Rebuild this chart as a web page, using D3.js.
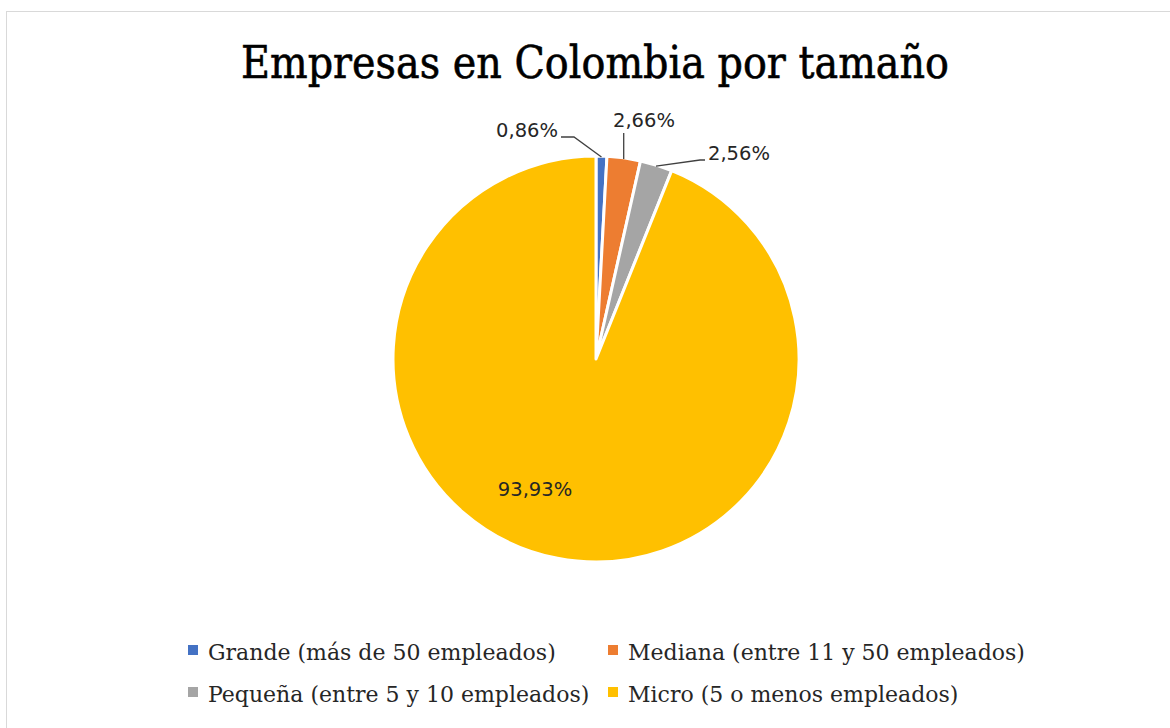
<!DOCTYPE html>
<html>
<head>
<meta charset="utf-8">
<script src="https://cdn.jsdelivr.net/npm/d3@7"></script>
<style>
  html, body { margin: 0; padding: 0; background: #fff; }
  svg { display: block; }
</style>
</head>
<body>
<svg id="chart" width="1170" height="728"></svg>
<script>
// Company size shares in Colombia (percent)
const categories = [
  "Grande (más de 50 empleados)",
  "Mediana (entre 11 y 50 empleados)",
  "Pequeña (entre 5 y 10 empleados)",
  "Micro (5 o menos empleados)"
];
const shares = [0.86, 2.66, 2.56, 93.93];
const shareLabels = ["0,86%", "2,66%", "2,56%", "93,93%"];
const colors = ["#4472C4", "#ED7D31", "#A5A5A5", "#FFC000"];
const title = "Empresas en Colombia por tamaño";

const W = 1170, H = 728;
const cx = 596, cy = 359, R = 203;
const serif = "'DejaVu Serif', serif";
const sans = "'DejaVu Sans', sans-serif";

const svg = d3.select("#chart");

// chart frame
svg.append("rect")
  .attr("x", 6.5).attr("y", 11.5)
  .attr("width", W).attr("height", H)
  .attr("fill", "#fff").attr("stroke", "#d9d9d9").attr("stroke-width", 1);

// title
svg.append("text")
  .attr("x", 595).attr("y", 78)
  .attr("text-anchor", "middle")
  .attr("font-family", serif)
  .attr("font-size", 45)
  .attr("textLength", 708)
  .attr("lengthAdjust", "spacingAndGlyphs")
  .attr("fill", "#000")
  .attr("stroke", "#000")
  .attr("stroke-width", 0.6)
  .text(title);

const data = categories.map((c, i) => ({ name: c, value: shares[i], label: shareLabels[i], color: colors[i] }));

const pie = d3.pie().sort(null).value(d => d.value);
const arcs = pie(data);
const arc = d3.arc().innerRadius(0).outerRadius(R);

const g = svg.append("g").attr("transform", `translate(${cx},${cy})`);

g.selectAll("path.slice")
  .data(arcs)
  .join("path")
  .attr("class", "slice")
  .attr("d", arc)
  .attr("fill", d => d.data.color)
  .attr("stroke", "#fff")
  .attr("stroke-width", 3)
  .attr("stroke-linejoin", "round");

// point on the rim at the middle of a slice
function rimPoint(d, r) {
  const a = (d.startAngle + d.endAngle) / 2;
  return [r * Math.sin(a), -r * Math.cos(a)];
}

// outside labels with leader lines for the small slices
const outside = [
  { i: 0, bend: [-22, -222], end: [-35, -222], text: [-38, -222], anchor: "end" },
  { i: 1, bend: null, end: [28, -226], text: [48, -232], anchor: "middle" },
  { i: 2, bend: [104, -199], end: [109, -199], text: [112, -199], anchor: "start" }
];

outside.forEach(o => {
  const d = arcs[o.i];
  const p = rimPoint(d, R - 1);
  let pts;
  if (o.bend) pts = [p, o.bend, o.end];
  else pts = [p, [p[0], o.end[1]]];
  g.append("path")
    .attr("d", d3.line()(pts))
    .attr("fill", "none")
    .attr("stroke", "#404040")
    .attr("stroke-width", 1.3);
  g.append("text")
    .attr("x", o.text[0]).attr("y", o.text[1])
    .attr("text-anchor", o.anchor)
    .attr("font-family", sans)
    .attr("font-size", 19.5)
    .attr("fill", "#262626")
    .text(d.data.label);
});

// inside label for the largest slice, placed in its lower-left area
const big = arcs[3];
g.append("text")
  .attr("x", -61).attr("y", 137)
  .attr("text-anchor", "middle")
  .attr("font-family", sans)
  .attr("font-size", 19.5)
  .attr("fill", "#262626")
  .text(big.data.label);

// legend
const legendPos = [[188, 660], [608, 660], [188, 702], [608, 702]];
const legend = svg.append("g");
data.forEach((d, i) => {
  const [x, y] = legendPos[i];
  legend.append("rect")
    .attr("x", x).attr("y", y - 15)
    .attr("width", 10).attr("height", 10)
    .attr("fill", d.color);
  legend.append("text")
    .attr("x", x + 20).attr("y", y)
    .attr("font-family", serif)
    .attr("font-size", 22)
    .attr("fill", "#262626")
    .text(d.name);
});
</script>
</body>
</html>
